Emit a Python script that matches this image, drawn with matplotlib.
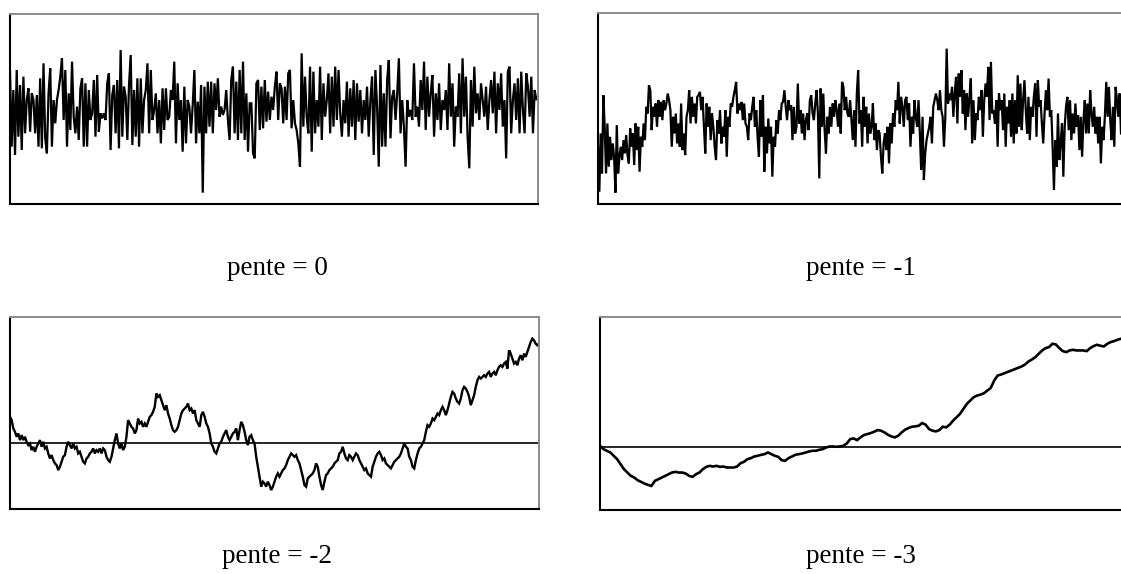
import numpy as np
import matplotlib
matplotlib.use("Agg")
import matplotlib.pyplot as plt

# ---- data (arbitrary units, up = positive) ----
pente0 = [12.5,-10,7,-12.5,13,-7,8.5,-11,11,-6,4,7.5,-5.5,6,4,-6,5.5,-10,10.5,-10.5,15,-7.5,-12,6,13.5,-10,4,-3,4,7,11,16.5,-2,13,-10,6,-5,15.5,-1,-6,2,-8,7.5,10.5,-10,9,-10,7,-2,0,10,-7,11.5,-5.5,0,-1.5,0,-2,9,12,-11,5.5,8.5,-6,10,-10.5,19,-7,8,5,-8,8.5,17.5,-9.5,7,-7,10.5,-10,10.5,-6,4,7,15,-6,13,-2,1,6,-6,4,-9,7.5,-5,7.5,-2,-1,7,4,15.5,-9,9,-2,4,-11.5,8,-9,4,2,-6,2.5,13,-9,3.5,-6,8.5,-23.8,8,-6,9.5,-4,9.5,-6,9,1,10.5,-1,2,-0.5,1,7,-2,-8,10,14,-6,9.5,-8,13,-6,15.5,-8,6,-11.5,3,3,-12,-13.5,9,10,-5,8,-4.5,10,-2.5,6.5,-2,5,1,8,
          12.5,-2,9,7.5,-3,8,-2,12,13,-4.5,4,-3,-5,-9,-16,18,-4,11,-1,-6,14,-11.5,12.5,-6,4,-4,14,-8,9,-1,4,12,-6,11,-4,14,-2,13,0,-7,4,-3,9.5,-7,7.5,-4,10,-8,9,-2.5,7,-6,4,-2,8,-7,4,11,-12.5,13,2,-16,14.5,-10,6,-10,10,16,-7.5,5,7,-2,6,16.5,-6,4,-4,-16,4,-1,1,-2,15,-1,2,-4,10,1,15.5,-5,11,-1,6,11.5,-7,6,-2,9,-5,4,1,7,-5,15,-1,9,-10,2,-1,12,-6,16.5,-1,11,-7,-16.5,10,-4,14,0,6,-2,9,4,-1,8,-5,4,10,0,12.5,-6,9,1,12,-4,4,-13.5,12.5,14,-6,4,9,-2,10.5,-6,12.5,1,-6,12,8,-1,11,-6,7,4,5]

pente1 = [-10,-23.5,-6,-18,5.5,-4,-18,-3,-16,-7,-14,-9,-13,-23.8,-3.5,-18,-13,-10,-14,-8,-12,-6.5,-12.5,-15,-4.5,-10,-6,-15.5,-3,-11,-4,-17.5,-7,-10,-3,-8,2,0,8.5,7,-5,2,-1,3,-4,4,-1,3.5,-2,4,1,3,6,4,1,-10,-1,-6,0,-9,-3,-10,3,-11,-6,-12.5,-1,1,7,-3,5,-1,3,-3,5,5.5,6.5,1,5,-4,-12,3,-4,2,-8,0,-4,-10,-14,-2,-6,1,-9,-4,-7,1,-13,-1,-4,3,2,5,7,9.5,0,3,1,3.5,-2,3,-3,-4,-8,0,-2,2,5,-4,1,-7,-13,4,-7,5.5,-17.5,-4,-12,-1.5,-9,-4,-19,-7,-10,-2,-6,1,-2,3,3.5,7,2,-2,4,1,2.5,-8,2,-6,-4,9,-3,1,-6,0,-8,-2,0,-5,4,5.5,0,-2,3,7,0,-19.5,7.5,-4,6,-5,-12,-1,-6,2,-4,3,-1,4,1,-4,3,-6,9.5,8,1,5,0,-1,4,-2,-8,
          1,-10,6,13,-3,1,-10,5,-4,2,-9,0,-6,-4,3,-8,-3,-11,-5,-6,-13,-18,-9,-6,-11,-4,-15,-3,-9,0,-4,4,1,9.5,-3,5,2,-4,4,5,-2,3,-10,-1,-6,4,-1,-4,4,-6,-17,-1,-20,-12,-8,-6,-4,-1,-9,2,4,6,4,1,7,1,-1,-10,-1,19.5,3,6,4,8,-1,6,11,-3,12,5,13,0,7,-5,6,-1,5,10.5,-9,4,-8,0,-2,5,1,7,-7,4,9,5,14,-2,15.5,0,1,-3,4,-10,6,1,4,-5,6,-10,2,-3,4,-7,6,-9,4,-6,11.5,-4,9,-5,4,10,1,-6,5,-8,2,-1,5,9,-7,10,2,4,-3,-9,0,7,1,10.5,-1,1,-10,-23,-8,-16,0,-14,-9,-3,-19,-4,2,5,-5,4,-8,0,-6,3,-4,-0.5,-11,-1,-13,-2,4,-6,3,-6,7,0,-4,2,-6,-1,-9,-1,-15,-4,-8,-0.5,9.5,-1,8,-2,-8,2,-10,8,4,-1,6,-6]

pente2 = [7.8,6.8,4.3,3.3,1.8,2.8,0.8,2.3,0.8,1.8,0.3,-0.7,-0.2,-2.2,-1.2,-2.7,-1.2,-0.2,0.8,-1.2,0.3,-1.7,-1.2,-3.2,-4.7,-3.7,-5.2,-6.2,-6.7,-8.2,-7.2,-5.7,-4.2,-3.7,-1.2,0.3,-0.7,-1.7,-0.2,-1.7,-1.2,-3.2,-2.7,-4.2,-5.7,-6.2,-4.7,-4.2,-3.2,-2.7,-1.7,-3.2,-2.2,-2.7,-1.7,-3.2,-1.7,-2.2,-4.2,-5.2,-5.7,-4.2,-1.7,0.8,2.8,-0.2,-1.7,-0.2,-2.2,-1.2,1.8,6.8,5.8,4.8,4.3,2.8,3.8,7.3,5.8,6.3,4.8,5.8,4.8,6.3,7.8,8.3,9.3,10.8,14.8,13.8,14.3,12.8,11.3,9.8,11.3,8.8,7.3,5.3,3.8,3.3,3.8,4.8,6.8,8.8,9.8,10.3,10.8,11.8,9.8,10.3,8.8,9.8,6.8,5.8,4.8,8.3,9.3,7.8,5.8,4.8,2.8,-0.2,-1.2,-2.7,-3.2,-1.7,-0.2,0.3,1.8,2.8,3.8,1.8,0.8,1.8,2.8,3.3,4.3,0.8,3.8,6.3,5.3,3.3,0.8,-0.7,1.8,2.3,0.8,-0.2,-4.2,-7.2,-10.2,-13.2,-11.7,-12.2,-13.2,-11.7,-12.7,-14.2,-13.2,-11.7,-10.2,-9.2,
          -10.2,-9.2,-8.2,-7.7,-6.7,-5.2,-4.2,-3.2,-3.7,-4.2,-3.7,-5.2,-6.2,-8.2,-10.2,-12.7,-13.2,-10.7,-10.2,-9.7,-9.2,-8.2,-6.2,-7.2,-10.2,-12.7,-14.2,-11.7,-9.7,-9.2,-8.2,-7.7,-7.2,-6.2,-5.7,-5.2,-3.2,-2.7,-1.2,-3.2,-4.7,-5.2,-3.7,-4.2,-5.2,-4.2,-3.2,-3.7,-5.2,-6.2,-7.2,-8.2,-7.7,-9.2,-9.7,-10.2,-7.2,-5.7,-4.2,-3.2,-2.7,-3.7,-5.2,-4.7,-6.2,-6.7,-7.2,-7.7,-6.7,-5.7,-5.2,-4.7,-4.2,-3.2,-1.7,-0.2,-1.2,-1.7,-4.2,-5.2,-7.2,-7.7,-5.2,-3.2,-1.7,-1.2,-0.2,0.8,3.3,5.3,4.8,5.8,7.3,6.8,7.8,8.8,8.3,9.8,10.8,9.8,8.3,9.8,11.8,13.8,15.3,14.8,13.3,12.3,11.8,13.3,15.8,16.8,16.3,15.3,13.8,11.3,12.8,14.3,16.8,18.8,19.8,19.3,19.8,20.3,19.8,20.8,21.3,19.8,20.8,21.3,20.3,21.8,22.8,23.3,22.8,23.8,24.3,22.3,27.8,26.8,25.3,23.8,24.3,23.3,25.3,26.3,24.8,26.8,25.8,27.3,28.8,30.3,31.3,30.8,29.8,29.3,29.8]

pente3 = [0.5,-0.5,-1,-1.5,-2.5,-3.5,-5,-6.5,-7.5,-8.5,-9,-9.8,-10.3,-10.8,-11.2,-11.5,-10,-9.5,-9,-8.5,-8,-7.5,-7.3,-7.5,-7.5,-7.8,-8.5,-8.8,-8,-7.5,-6.5,-5.8,-5.5,-5.7,-5.5,-5.8,-5.7,-6,-6,-6,-5.7,-4.7,-4.3,-3.5,-3.2,-2.7,-2.5,-2.2,-2,-1.5,-2,-2.5,-2.8,-3.8,-4,-3.2,-2.7,-2.2,-2,-1.8,-1.5,-1.2,-1,-1,-0.7,-0.5,0,0.3,0.3,0.2,0.3,0.5,1.2,2.5,2.7,2.2,3,3.7,4,4.3,4.7,5.2,5,4.5,3.8,3.3,3,3.5,4.5,5.3,5.8,6.2,6.3,6.5,7.3,6.8,5.5,5,4.8,5.2,6.2,6,6.8,8,9,10,11.5,13,14,15,15.5,15.8,16.2,17,17.8,20,21.5,21.8,22.2,22.6,23,23.4,23.8,24.2,24.8,25.7,26.3,27,28,29,29.7,30,31,30.8,29.7,28.8,28.5,29,29.2,29,29,29,28.8,29.7,30.3,30.7,30.4,30.2,31,31.5,31.8,32.2,32.5]

labels = ["pente = 0", "pente = -1", "pente = -2", "pente = -3"]
series = [pente0, pente1, pente2, pente3]
ylims = [(-27.2, 29.8), (-27.2, 30.2), (-19.9, 37.8), (-18.7, 39.0)]
zero_line = [False, False, True, True]
line_w = [1.6, 1.6, 1.7, 1.9]

W, H = 1121, 574
fig = plt.figure(figsize=(W / 100, H / 100), dpi=100)

# panel boxes in pixels: (left, top, right, bottom), x-fraction of axis reached by last sample
boxes = [(10, 14, 538, 204, 1.0), (598, 13, 1127, 204, 523 / 529),
         (10, 317, 539, 509, 1.0), (600, 317, 1129, 510, 521 / 529)]
label_pos = [(277, 275), (861, 275), (277, 563), (861, 563)]

for vals, (l, t, r, b, frac), lab, (lx, ly), yl, zl, lw in zip(series, boxes, labels, label_pos, ylims, zero_line, line_w):
    ax = fig.add_axes([l / W, 1 - b / H, (r - l) / W, (b - t) / H])
    x = np.arange(len(vals))
    ax.plot(x, vals, color="black", lw=lw, solid_joinstyle="miter")
    if zl:
        ax.axhline(0, color="black", lw=1.2)
    ax.set_xlim(0, (len(vals) - 1) / frac)
    ax.set_ylim(*yl)
    ax.set_xticks([])
    ax.set_yticks([])
    for s in ("left", "bottom"):
        ax.spines[s].set_color("black")
        ax.spines[s].set_linewidth(1.5)
    for s in ("top", "right"):
        ax.spines[s].set_color("#8a8a8a")
        ax.spines[s].set_linewidth(1.4)
    fig.text(lx / W, 1 - ly / H, lab, ha="center", va="baseline",
             fontsize=19.5, family=["Liberation Serif", "DejaVu Serif"])

fig.savefig("out.png", dpi=100)
